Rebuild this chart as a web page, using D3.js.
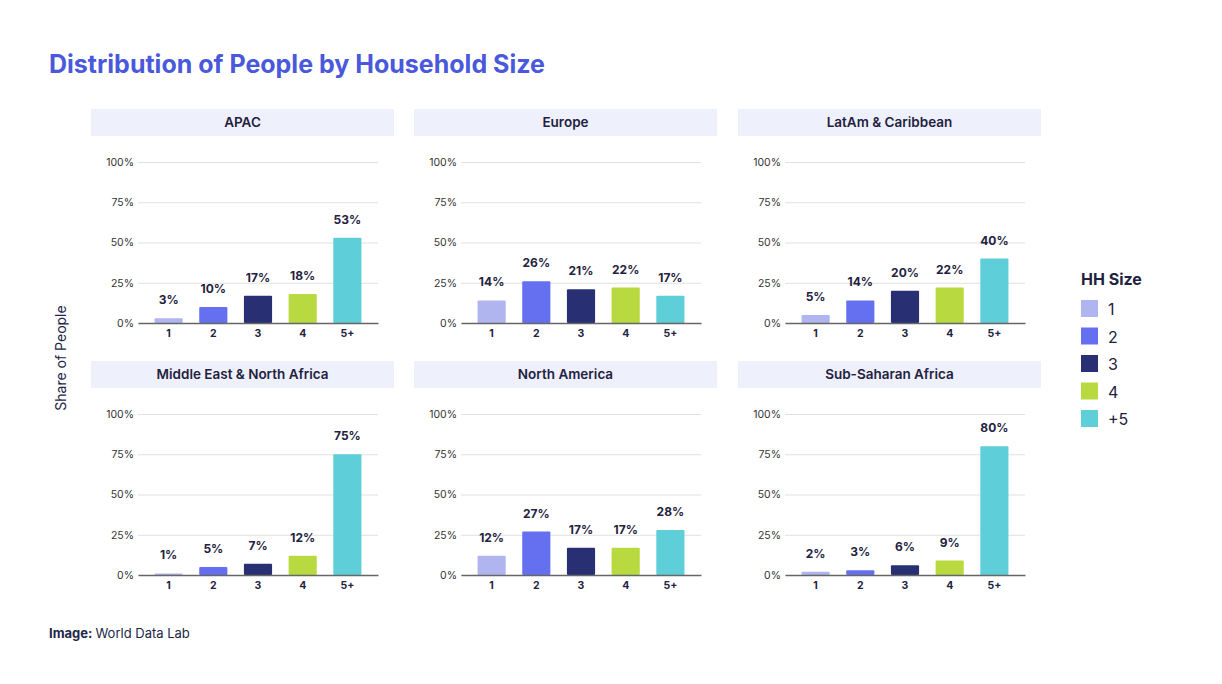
<html>
<head>
<script src="https://d3js.org/d3.v7.min.js"></script>
<style>
  body { margin: 0; background: #fff; }
  svg { font-family: Inter, "Noto Sans", sans-serif; }
  .gridlines line { stroke: #e0e0e0; }
  .gridlines .domain { stroke: none; }
</style>
</head>
<body>
<svg id="chart" width="1222" height="684"></svg>
<script>
  var regions = ["APAC", "Europe", "LatAm & Caribbean", "Middle East & North Africa", "North America", "Sub-Saharan Africa"];
  var sizes = ["1", "2", "3", "4", "5+"];
  var legendLabels = ["1", "2", "3", "4", "+5"];
  var colors = ["#b0b5f0", "#6570f0", "#282f72", "#b8da40", "#5ecfd8"];
  var apac = [3, 10, 17, 18, 53];
  var europe = [14, 26, 21, 22, 17];
  var latam = [5, 14, 20, 22, 40];
  var mena = [1, 5, 7, 12, 75];
  var northAmerica = [12, 27, 17, 17, 28];
  var ssa = [2, 3, 6, 9, 80];
  var yTicks = [0, 25, 50, 75, 100];

  var values = [apac, europe, latam, mena, northAmerica, ssa];

  const svg = d3.select("svg#chart");

  svg.append("text")
    .attr("x", 49).attr("y", 73)
    .attr("fill", "#4a58dc")
    .attr("font-size", 25).attr("font-weight", 700)
    .text("Distribution of People by Household Size");

  svg.append("text")
    .attr("transform", "translate(66,358) rotate(-90)")
    .attr("text-anchor", "middle")
    .attr("fill", "#222648").attr("font-size", 14)
    .text("Share of People");

  const panelW = 303, headerH = 27;
  const colX = [91, 414, 738];
  const rowY = [109, 361];

  let x = d3.scaleBand().domain(sizes).range([47, 287]).paddingInner(0.37).paddingOuter(0.37);
  let y = d3.scaleLinear().domain([0, 100]).range([214, 53]);
  let color = d3.scaleOrdinal().domain(sizes).range(colors);

  regions.forEach((r, i) => {
    const g = svg.append("g")
      .attr("transform", `translate(${colX[i % 3]},${rowY[Math.floor(i / 3)]})`);

    g.append("rect").attr("width", panelW).attr("height", headerH).attr("fill", "#eef0fc");
    g.append("text")
      .attr("x", panelW / 2).attr("y", 18)
      .attr("text-anchor", "middle")
      .attr("fill", "#1f2240").attr("font-size", 13.5).attr("font-weight", 600)
      .text(r);

    // grid + y tick labels
    g.append("g").attr("class", "gridlines")
      .attr("transform", "translate(47,0)")
      .call(d3.axisLeft(y).tickValues(yTicks).tickSize(-240).tickFormat(d => d + "%"))
      .call(a => a.selectAll("text").attr("x", -4).attr("fill", "#333").attr("font-size", 10.5).attr("font-family", "Inter, sans-serif"));

    const data = sizes.map((s, j) => ({ s: s, v: values[i][j] }));

    g.selectAll("rect.bar").data(data).join("rect")
      .attr("class", "bar")
      .attr("x", d => x(d.s))
      .attr("y", d => y(d.v))
      .attr("width", x.bandwidth())
      .attr("height", d => y(0) - y(d.v))
      .attr("rx", 1)
      .attr("fill", d => color(d.s));

    g.selectAll("text.val").data(data).join("text")
      .attr("class", "val")
      .attr("x", d => x(d.s) + x.bandwidth() / 2)
      .attr("y", d => y(d.v) - 14)
      .attr("text-anchor", "middle")
      .attr("fill", "#1f2240").attr("font-size", 12).attr("font-weight", 700)
      .text(d => d.v + "%");

    // x axis
    g.append("g")
      .attr("transform", `translate(0,${y(0)})`)
      .call(d3.axisBottom(x).tickSize(0).tickPadding(7))
      .call(a => a.select(".domain").attr("stroke", "#666").attr("stroke-width", 1.3))
      .call(a => a.selectAll("text").attr("fill", "#1f2240").attr("font-size", 10.5).attr("font-weight", 700).attr("font-family", "Inter, sans-serif"));
  });

  // legend
  const legend = svg.append("g").attr("transform", "translate(1081,0)");
  legend.append("text")
    .attr("x", 0).attr("y", 285)
    .attr("fill", "#1f2240").attr("font-size", 16).attr("font-weight", 700)
    .text("HH Size");
  legend.selectAll("rect").data(legendLabels).join("rect")
    .attr("x", 0).attr("y", (d, i) => 300 + i * 27.5)
    .attr("width", 17).attr("height", 17)
    .attr("fill", (d, i) => colors[i]);
  legend.selectAll("text.lab").data(legendLabels).join("text")
    .attr("class", "lab")
    .attr("x", 27).attr("y", (d, i) => 315 + i * 27.5)
    .attr("fill", "#1f2240").attr("font-size", 16)
    .text(d => d);

  const foot = svg.append("text").attr("x", 49).attr("y", 638).attr("font-size", 13).attr("fill", "#222648");
  foot.append("tspan").attr("font-weight", 700).text("Image: ");
  foot.append("tspan").text("World Data Lab");
</script>
</body>
</html>
